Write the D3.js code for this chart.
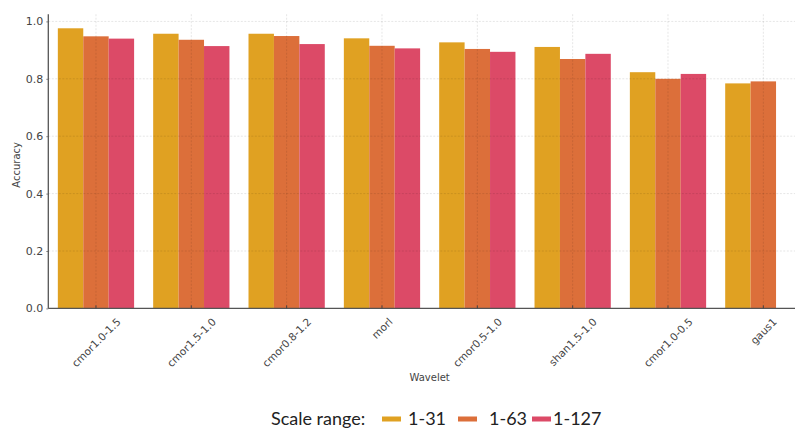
<!DOCTYPE html>
<html><head><meta charset="utf-8">
<script src="https://cdn.jsdelivr.net/npm/d3@7"></script>
<style>body{margin:0;background:#fff;}svg{display:block;}</style>
</head><body>
<svg id="c" width="795" height="428"></svg>
<script>
const categories = ["cmor1.0-1.5","cmor1.5-1.0","cmor0.8-1.2","morl","cmor0.5-1.0","shan1.5-1.0","cmor1.0-0.5","gaus1"];
const seriesNames = ["1-31","1-63","1-127"];
const s1_31  = [0.976,0.957,0.957,0.941,0.927,0.911,0.823,0.784];
const s1_63  = [0.948,0.936,0.949,0.915,0.904,0.869,0.800,0.791];
const s1_127 = [0.940,0.914,0.921,0.906,0.894,0.887,0.817,null];
const yTicks = [0.0,0.2,0.4,0.6,0.8,1.0];
const colors = ["#E0A122","#DC6F3A","#DC4A67"];
const series = [s1_31, s1_63, s1_127];

(function(){
const svg = d3.select("#c");
const mLeft = 48.3, mRight = 811, mTop = 21.4, mBottom = 308.4;

const x0 = d3.scaleBand().domain(categories).range([mLeft, mRight]).paddingInner(0.2).paddingOuter(0.1);
const x1 = d3.scaleBand().domain(seriesNames).range([0, x0.bandwidth()]);
const y = d3.scaleLinear().domain([0, 1]).range([mBottom, mTop]);
const cx = c => x0(c) + x0.bandwidth() / 2;

// bars
seriesNames.forEach((s, si) => {
  svg.append("g").selectAll("rect")
    .data(categories.map((c, i) => ({c, v: series[si][i]})).filter(d => d.v != null))
    .join("rect")
    .attr("x", d => x0(d.c) + x1(s))
    .attr("y", d => y(d.v))
    .attr("width", x1.bandwidth())
    .attr("height", d => y(0) - y(d.v))
    .attr("fill", colors[si]);
});

// grid (over bars, subtle)
const grid = svg.append("g").attr("stroke", "rgba(0,0,0,0.10)").attr("stroke-width", 1).attr("stroke-dasharray", "2,1.5");
grid.selectAll("line.h").data(yTicks.filter(t => t > 0)).join("line")
  .attr("x1", mLeft).attr("x2", 795).attr("y1", d => y(d)).attr("y2", d => y(d));
grid.selectAll("line.v").data(categories).join("line")
  .attr("x1", cx).attr("x2", cx).attr("y1", y(1.025)).attr("y2", mBottom);

// y axis
const yAxis = svg.append("g").attr("transform", `translate(${mLeft},0)`)
  .call(d3.axisLeft(y).tickValues(yTicks).tickFormat(d3.format(".1f")).tickSize(2).tickPadding(3));
yAxis.select(".domain").remove();
yAxis.selectAll(".tick line").attr("stroke", "#888");
yAxis.selectAll("text").attr("font-family", "DejaVu Sans").attr("font-size", 11).attr("fill", "#444");
svg.append("line").attr("x1", mLeft).attr("x2", mLeft).attr("y1", y(1.025)).attr("y2", mBottom)
  .attr("stroke", "#555").attr("stroke-width", 1.3);

// x axis
svg.append("line").attr("x1", mLeft).attr("x2", 795).attr("y1", mBottom).attr("y2", mBottom)
  .attr("stroke", "#555").attr("stroke-width", 1.3);
svg.append("g").selectAll("line").data(categories).join("line")
  .attr("x1", cx).attr("x2", cx).attr("y1", mBottom).attr("y2", mBottom - 3)
  .attr("stroke", "#444").attr("stroke-width", 1);

// x tick labels rotated 45°, centred on tick like matplotlib
const xl = svg.append("g").selectAll("text").data(categories).join("text")
  .text(d => d)
  .attr("font-family", "DejaVu Sans").attr("font-size", 10.5).attr("fill", "#444")
  .attr("text-anchor", "middle").attr("dominant-baseline", "central");
xl.each(function(d) {
  const L = this.getComputedTextLength();
  const h = 10.5;
  const boxH = (L + h) / Math.SQRT2;
  const cyy = 316 + boxH / 2;
  d3.select(this).attr("transform", `translate(${cx(d)},${cyy}) rotate(-45)`);
});

// axis titles
svg.append("text").text("Accuracy")
  .attr("transform", `translate(16,${(mTop + mBottom) / 2}) rotate(-90)`)
  .attr("text-anchor", "middle").attr("dominant-baseline", "central")
  .attr("font-family", "DejaVu Sans").attr("font-size", 10).attr("fill", "#444");
svg.append("text").text("Wavelet")
  .attr("x", (mLeft + mRight) / 2).attr("y", 381)
  .attr("text-anchor", "middle")
  .attr("font-family", "DejaVu Sans").attr("font-size", 10).attr("fill", "#444");

// legend
const lg = svg.append("g").attr("font-family", "Lato").attr("font-size", 18).attr("fill", "#222");
lg.append("text").text("Scale range:").attr("x", 271).attr("y", 425);
const swX = [382, 458, 532], txX = [408, 489, 553];
seriesNames.forEach((s, i) => {
  lg.append("rect").attr("x", swX[i]).attr("y", 416.5).attr("width", 19).attr("height", 5).attr("fill", colors[i]);
  lg.append("text").text(s).attr("x", txX[i]).attr("y", 425);
});
})();
</script>
</body></html>
